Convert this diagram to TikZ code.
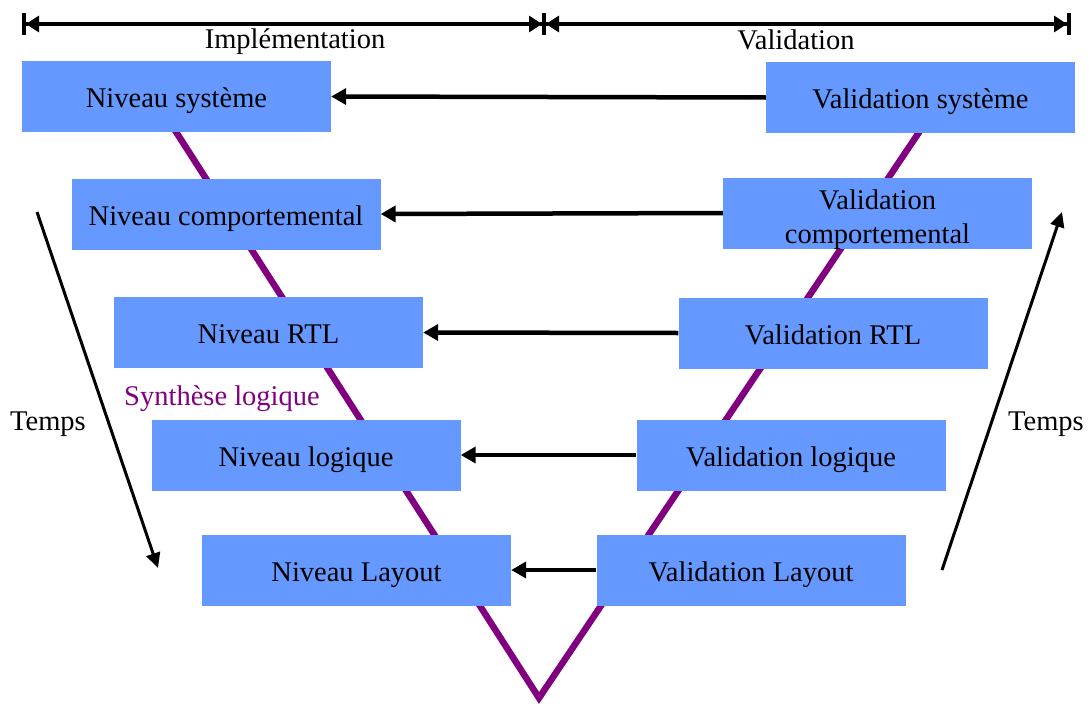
\documentclass[tikz,border=0pt]{standalone}
\usepackage{fontspec}
\setmainfont{Liberation Serif}
\usetikzlibrary{arrows.meta}
\definecolor{boxblue}{HTML}{6699FF}
\definecolor{vpurple}{HTML}{800080}
\begin{document}
\begin{tikzpicture}[x=1pt,y=-1pt,
  font=\fontsize{28.5}{34}\selectfont,
  box/.style={fill=boxblue, minimum width=309pt, minimum height=71pt, inner sep=0pt, align=center, text height=22pt, text depth=0pt},
  box2/.style={fill=boxblue, minimum width=309pt, minimum height=71pt, inner sep=0pt, align=center, text height=61.5pt, text depth=0pt},
  link/.style={line width=4.5pt, -{Triangle[length=15pt,width=16pt]}},
  vline/.style={line width=6.5pt, draw=vpurple, line join=miter},
  timearrow/.style={line width=3pt, -{Triangle[length=15pt,width=14pt]}},
  spanarrow/.style={line width=4pt, {Bar[width=22pt]Triangle[length=13pt,width=16pt]}-{Triangle[length=13pt,width=16pt]Bar[width=22pt]}},
  lbl/.style={inner sep=0pt, text height=20pt, text depth=6pt}]
\useasboundingbox (0,0) rectangle (1090,704);

% V shape
\coordinate (vtl) at (162,110);
\coordinate (vb) at (539,698);
\coordinate (vtr) at (934,110);
\draw[vline] (vtl) -- (vb) -- (vtr);

% boxes
\node[box] (l1) at (176.5,96.5) {Niveau système};
\node[box] (l2) at (226,214) {Niveau comportemental};
\node[box] (l3) at (268.5,332.5) {Niveau RTL};
\node[box] (l4) at (306,455) {Niveau logique};
\node[box] (l5) at (356.5,570) {Niveau Layout};
\node[box] (r1) at (920.5,97.5) {Validation système};
\node[box2] (r2) at (877.5,213) {Validation\\comportemental};
\node[box] (r3) at (833,333) {Validation RTL};
\node[box] (r4) at (791,455) {Validation logique};
\node[box] (r5) at (751,570) {Validation Layout};

% horizontal links
\draw[link] (r1.west) -- (l1.east);
\draw[link] (r2.west) -- (l2.east);
\draw[link] (r3.west) -- (l3.east);
\draw[link] (r4.west) -- (l4.east);
\draw[link] (r5.west) -- (l5.east);

% top span arrows
\coordinate (sl) at (22,24);
\coordinate (sml) at (546,24);
\coordinate (smr) at (542,24);
\coordinate (sr) at (1071,24);
\draw[spanarrow] (sl) -- (sml);
\draw[spanarrow] (smr) -- (sr);
\node[lbl] (impl) at (295,41) {Implémentation};
\node[lbl] (valid) at (796,42) {Validation};

% time arrows
\coordinate (ta1) at (37,212);
\coordinate (ta2) at (158,568);
\coordinate (tb1) at (942,570);
\coordinate (tb2) at (1062,212);
\draw[timearrow] (ta1) -- (ta2);
\draw[timearrow] (tb1) -- (tb2);
\node[lbl] (tempsl) at (48,423) {Temps};
\node[lbl] (tempsr) at (1046,423) {Temps};

\node[lbl, text=vpurple] (synth) at (222,398) {Synthèse logique};
\end{tikzpicture}
\end{document}
